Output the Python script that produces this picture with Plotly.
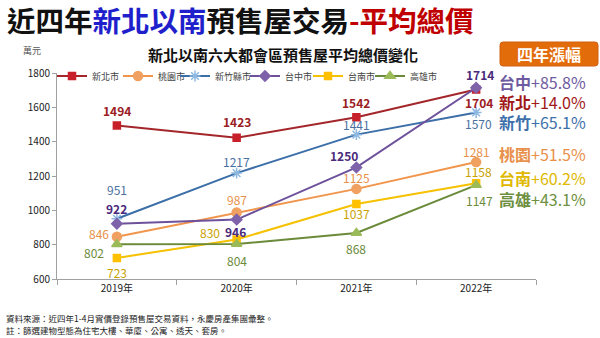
import plotly.graph_objects as go

years = ["2019年", "2020年", "2021年", "2022年"]
cities = ["新北市", "桃園市", "新竹縣市", "台中市", "台南市", "高雄市"]
xinbei = [1494, 1423, 1542, 1704]
taoyuan = [846, 987, 1125, 1281]
hsinchu = [951, 1217, 1441, 1570]
taichung = [922, 946, 1250, 1714]
tainan = [723, 830, 1037, 1158]
kaohsiung = [802, 804, 868, 1147]
series = [xinbei, taoyuan, hsinchu, taichung, tainan, kaohsiung]

growth_names = ["台中", "新北", "新竹", "桃園", "台南", "高雄"]
growth_vals = ["+85.8%", "+14.0%", "+65.1%", "+51.5%", "+60.2%", "+43.1%"]

line_colors = ["#A3262B", "#F0954B", "#3C6EA8", "#6E519B", "#F5C100", "#6B8A3A"]
marker_colors = ["#C8202A", "#F0A060", "#8DB8E0", "#7E62AA", "#FFC000", "#9BBB59"]
marker_symbols = ["square", "circle", "asterisk-open", "diamond", "square", "triangle-up"]
marker_sizes = [7, 9, 9, 8, 7, 9]
label_colors = ["#9B1B1F", "#E8904A", "#4A70A0", "#4B2A7B", "#C9A200", "#6B8A3A"]
label_bold = [True, False, False, True, False, False]
# label offsets (dx, dy in px; dy positive = up)
offsets = [
    [(0, 15), (0, 16), (0, 15), (3, -13)],
    [(-18, 3), (0, 13), (0, 11), (0, 11)],
    [(0, 29), (0, 12), (0, 10), (2, -11)],
    [(0, 15), (-1, -12), (-12, 12), (4, 13)],
    [(0, -15), (-27, 7), (0, -10), (2, 12)],
    [(-23, -8), (0, -17), (0, -16), (3, -15)],
]
growth_colors = ["#6E5AA0", "#A01818", "#3D6FAA", "#E8904A", "#E0B800", "#6E9040"]
growth_py = [81, 101, 121, 153, 177, 198]
legend_text_px = [92, 158, 215, 285, 348, 410]

H = 206.0
W = 479.0
def py(p):
    return (279 - p) / H
def px(p):
    return (p - 57) / W

fig = go.Figure()
font_cjk = "Noto Sans CJK TC"
legend_layouts = {}
for i, name in enumerate(cities):
    lname = "legend" if i == 0 else f"legend{i+1}"
    fig.add_trace(go.Scatter(
        x=years, y=series[i], name=name, mode="lines+markers", legend=lname,
        line=dict(color=line_colors[i], width=2),
        marker=dict(symbol=marker_symbols[i], size=marker_sizes[i], color=marker_colors[i],
                    line=dict(color=marker_colors[i], width=1.5)),
    ))
    legend_layouts[lname] = dict(
        orientation="h", x=px(legend_text_px[i] - 40), y=py(76), xanchor="left", yanchor="middle",
        font=dict(size=9, color="#444444"), itemwidth=30, bgcolor="rgba(0,0,0,0)",
        borderwidth=0)
    for j, v in enumerate(series[i]):
        dx, dy = offsets[i][j]
        txt = f"<b>{v}</b>" if label_bold[i] else str(v)
        fig.add_annotation(x=years[j], y=v, xref="x", yref="y", text=txt, showarrow=False,
                           xshift=dx, yshift=dy,
                           font=dict(size=12, color=label_colors[i], family=font_cjk))

# main title
fig.add_annotation(xref="paper", yref="paper", x=px(5), y=py(19.5), xanchor="left", yanchor="middle",
                   showarrow=False,
                   text="<b>近四年<span style='color:#1F1FCC'>新北以南</span>預售屋交易<span style='color:#C00000'>-平均總價</span></b>",
                   font=dict(size=28.5, color="#111111", family=font_cjk))
# chart title
fig.add_annotation(xref="paper", yref="paper", x=px(283), y=py(54), xanchor="center", yanchor="middle",
                   showarrow=False, text="<b>新北以南六大都會區預售屋平均總價變化</b>",
                   font=dict(size=15, color="#111111", family=font_cjk))
# unit
fig.add_annotation(xref="paper", yref="paper", x=px(32), y=py(50), xanchor="center", yanchor="middle",
                   showarrow=False, text="萬元", font=dict(size=9, color="#555555", family=font_cjk))
# rounded box
x0, x1, y0, y1, r = 500, 598, 42, 66, 3
path = (f"M {px(x0+r)},{py(y0)} L {px(x1-r)},{py(y0)} Q {px(x1)},{py(y0)} {px(x1)},{py(y0+r)} "
        f"L {px(x1)},{py(y1-r)} Q {px(x1)},{py(y1)} {px(x1-r)},{py(y1)} "
        f"L {px(x0+r)},{py(y1)} Q {px(x0)},{py(y1)} {px(x0)},{py(y1-r)} "
        f"L {px(x0)},{py(y0+r)} Q {px(x0)},{py(y0)} {px(x0+r)},{py(y0)} Z")
fig.add_shape(type="path", xref="paper", yref="paper", path=path,
              fillcolor="#E36C0A", line=dict(color="#D06010", width=1))
fig.add_annotation(xref="paper", yref="paper", x=px(549), y=py(54), xanchor="center", yanchor="middle",
                   showarrow=False, text="<b>四年漲幅</b>", font=dict(size=16, color="white", family=font_cjk))
for k in range(len(growth_names)):
    fig.add_annotation(xref="paper", yref="paper", x=px(498), y=py(growth_py[k]), xanchor="left",
                       yanchor="middle", showarrow=False, height=19, borderpad=0,
                       text=f"<b>{growth_names[k]}</b>{growth_vals[k]}",
                       font=dict(size=16, color=growth_colors[k], family=font_cjk))
# footer
fig.add_annotation(xref="paper", yref="paper", x=px(4), y=py(318), xanchor="left", yanchor="middle",
                   showarrow=False, text="資料來源：近四年1-4月實價登錄預售屋交易資料，永慶房產集團彙整。",
                   font=dict(size=8.5, color="#222222", family=font_cjk))
fig.add_annotation(xref="paper", yref="paper", x=px(4), y=py(330), xanchor="left", yanchor="middle",
                   showarrow=False, text="註：篩選建物型態為住宅大樓、華廈、公寓、透天、套房。",
                   font=dict(size=8.5, color="#222222", family=font_cjk))

fig.update_layout(
    width=600, height=338,
    margin=dict(l=57, r=64, t=73, b=59),
    paper_bgcolor="white", plot_bgcolor="white",
    font=dict(family=font_cjk, color="#333333"),
    showlegend=True,
    xaxis=dict(range=[-0.5, 3.5], showline=True, linecolor="#A0A0A0", linewidth=1,
               ticks="outside", tickson="boundaries", ticklen=5, tickcolor="#A0A0A0",
               showgrid=False, tickfont=dict(size=10, color="#222222"), fixedrange=True),
    yaxis=dict(range=[600, 1800], dtick=200, showline=True, linecolor="#A0A0A0", linewidth=1,
               ticks="outside", ticklen=4, tickcolor="#A0A0A0", showgrid=False, zeroline=False,
               tickfont=dict(size=10, color="#222222"), fixedrange=True),
    **legend_layouts,
)

fig.write_html("out.html")
